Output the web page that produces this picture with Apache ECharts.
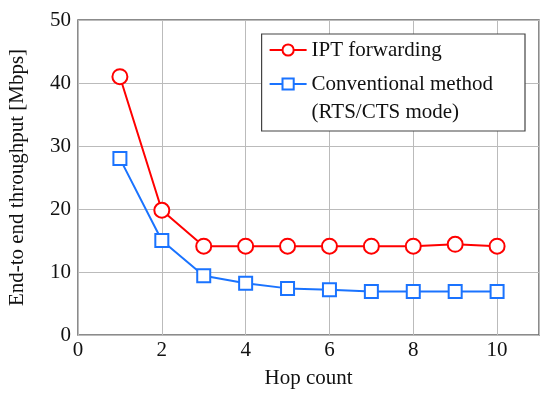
<!DOCTYPE html>
<html><head><meta charset="utf-8">
<script src="https://cdn.jsdelivr.net/npm/echarts@6/dist/echarts.min.js"></script>
<style>html,body{margin:0;padding:0;background:#fff}#c{width:550px;height:398px}</style>
</head><body><div id="c"></div>
<script>
const hops = [1,2,3,4,5,6,7,8,9,10];
const iptValues = [41.0,19.8,14.1,14.1,14.1,14.1,14.1,14.1,14.4,14.1];
const convValues = [28.0,15.0,9.4,8.2,7.4,7.2,6.9,6.9,6.9,6.9];
const seriesNames = ['IPT forwarding','Conventional method\n(RTS/CTS mode)'];
const xTicks = [0,2,4,6,8,10];
const yTicks = [0,10,20,30,40,50];

const font = 'Liberation Serif';
const fs = 21;
const chart = echarts.init(document.getElementById('c'));
chart.setOption({
  animation:false,
  textStyle:{fontFamily:font},
  grid:{left:78,right:11,top:20,bottom:63,show:true,borderColor:'#666',borderWidth:1.5,
        containLabel:false,outerBoundsMode:'none'},
  legend:{
    orient:'vertical', right:25, top:34,
    backgroundColor:'#fff', borderColor:'#444', borderWidth:1.2,
    padding:[2,32,5,7], itemGap:-22, itemWidth:37, itemHeight:14,
    textStyle:{fontFamily:font,fontSize:fs,color:'#111',lineHeight:28},
    formatter:n=> n===seriesNames[1] ? '\n'+n : n,
    data:seriesNames
  },
  xAxis:{type:'value',min:0,max:11,interval:2,
    name:'Hop count',nameLocation:'middle',nameGap:33,
    nameTextStyle:{fontFamily:font,fontSize:fs,color:'#111'},
    axisLine:{show:false},axisTick:{show:false},
    axisLabel:{fontFamily:font,fontSize:fs,color:'#111',margin:5,
      formatter:v=>xTicks.includes(v)?String(v):''},
    splitLine:{lineStyle:{color:'#bbb',width:1}}},
  yAxis:{type:'value',min:0,max:50,interval:10,
    name:'End-to end throughput [Mbps]',nameLocation:'middle',nameGap:50,
    nameTextStyle:{fontFamily:font,fontSize:fs,color:'#111'},
    axisLine:{show:false},axisTick:{show:false},
    axisLabel:{fontFamily:font,fontSize:fs,color:'#111',margin:7,
      formatter:v=>yTicks.includes(v)?String(v):''},
    splitLine:{lineStyle:{color:'#bbb',width:1}}},
  series:[
    {name:seriesNames[0],type:'line',data:hops.map((h,i)=>[h,iptValues[i]]),
     symbol:'circle',symbolSize:15,showAllSymbol:true,
     lineStyle:{color:'#ff0000',width:2},
     itemStyle:{color:'#fff',borderColor:'#ff0000',borderWidth:2}},
    {name:seriesNames[1],type:'line',data:hops.map((h,i)=>[h,convValues[i]]),
     symbol:'rect',symbolSize:13,showAllSymbol:true,
     lineStyle:{color:'#1a73ff',width:2},
     itemStyle:{color:'#fff',borderColor:'#1a73ff',borderWidth:2}}
  ]
});
</script></body></html>
